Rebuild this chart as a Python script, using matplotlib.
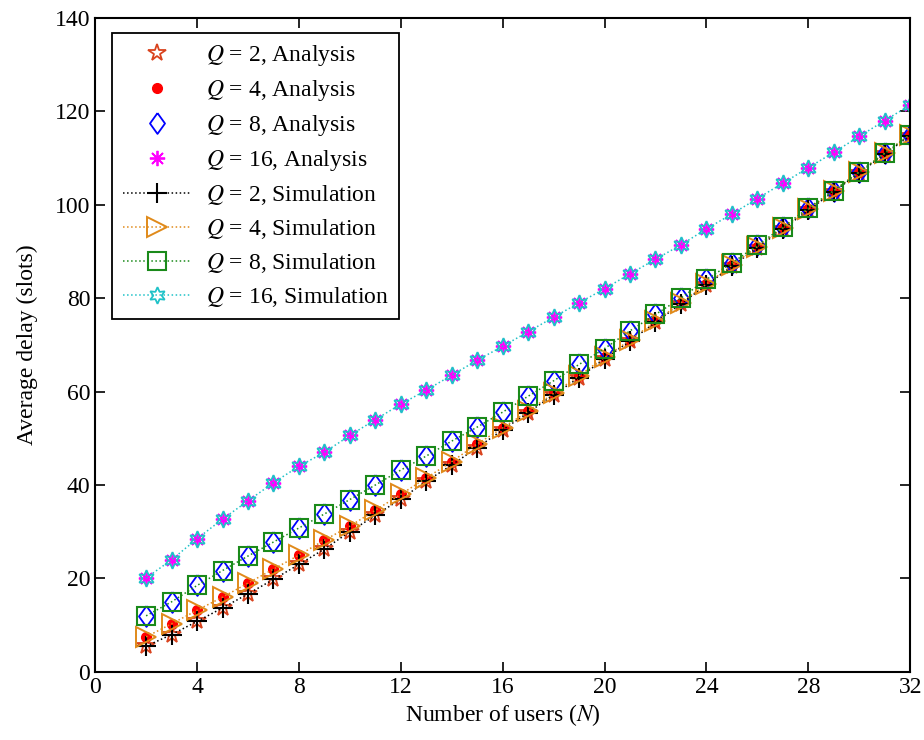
import numpy as np
import matplotlib
matplotlib.use("Agg")
import matplotlib.pyplot as plt

plt.rcParams["font.family"] = ["Liberation Serif", "DejaVu Serif"]
plt.rcParams["mathtext.fontset"] = "stix"
plt.rcParams["font.size"] = 17

# ---- data ----
users = list(range(2, 33))

q2 = [5.5, 8.0, 10.8, 13.7, 16.7, 19.8, 23.0, 26.3, 30.0, 33.5, 37.0, 40.8, 44.3, 48.0, 51.8, 55.5,
      59.3, 63.0, 67.0, 70.8, 74.8, 78.8, 82.8, 86.8, 90.8, 94.8, 98.8, 102.8, 106.8, 110.8, 114.8]
q4 = [7.5, 10.3, 13.2, 16.0, 19.0, 22.0, 25.0, 28.2, 31.2, 34.6, 38.0, 41.5, 45.0, 48.8, 52.2, 55.8,
      59.6, 63.4, 67.3, 71.0, 75.0, 79.0, 83.0, 87.0, 91.0, 95.0, 99.0, 103.0, 107.0, 111.0, 115.0]
q8 = [12.0, 15.0, 18.5, 21.7, 24.8, 27.8, 30.8, 33.8, 36.9, 40.0, 43.2, 46.2, 49.4, 52.4, 55.6, 59.0,
      62.3, 65.8, 69.2, 73.0, 76.5, 80.0, 84.0, 87.5, 91.3, 95.2, 99.3, 103.0, 107.0, 111.0, 115.0]
q16 = [20.1, 24.0, 28.5, 32.7, 36.6, 40.5, 44.0, 47.0, 50.6, 54.0, 57.3, 60.3, 63.5, 66.7, 69.7, 72.8,
       75.9, 79.0, 82.0, 85.2, 88.3, 91.4, 94.8, 98.0, 101.3, 104.6, 107.9, 111.2, 114.6, 118.0, 121.3]

# slightly tall diamond, like the MATLAB one
diamond = [(0, 1), (0.72, 0), (0, -1), (-0.72, 0), (0, 1)]

fig = plt.figure(figsize=(9.24, 7.40), dpi=100)
ax = fig.add_axes([0.103, 0.092, 0.882, 0.884])

# analysis markers (no lines)
ax.plot(users, q2, ls="none", marker="*", ms=13, mfc="none", mec="#d9431e", mew=1.3,
        label=r"$Q$ = 2, Analysis")
ax.plot(users, q4, ls="none", marker="o", ms=7, mfc="red", mec="red",
        label=r"$Q$ = 4, Analysis")
ax.plot(users, q8, ls="none", marker=diamond, ms=15, mfc="none", mec="blue", mew=1.3,
        label=r"$Q$ = 8, Analysis")
ax.plot(users, q16, ls="none", marker=(8, 2, 0), ms=11, mec="magenta", mew=1.3,
        label=r"$Q$ = 16, Analysis")

# simulation (dotted lines + markers)
ax.plot(users, q2, ls=":", lw=1.1, color="black", marker="+", ms=14, mew=1.5,
        label=r"$Q$ = 2, Simulation")
ax.plot(users, q4, ls=":", lw=1.1, color="#e08a1a", marker=">", ms=14, mfc="none", mew=1.4,
        label=r"$Q$ = 4, Simulation")
ax.plot(users, q8, ls=":", lw=1.1, color="#1a8a1a", marker="s", ms=13, mfc="none", mew=1.5,
        label=r"$Q$ = 8, Simulation")
ax.plot(users, q16, ls=":", lw=1.1, color="#1fc2c8", marker=(6, 1, 0), ms=12, mfc="none", mew=1.3,
        label=r"$Q$ = 16, Simulation")

ax.set_xlim(0, 32)
ax.set_ylim(0, 140)
ax.set_xticks(range(0, 33, 4))
ax.set_yticks(range(0, 141, 20))
ax.tick_params(direction="in", length=7, width=1.2, top=True, right=True, labelsize=17)
for sp in ax.spines.values():
    sp.set_linewidth(1.5)

ax.set_xlabel(r"Number of users ($N$)", fontsize=17, labelpad=3)
ax.set_ylabel("Average delay (slots)", fontsize=17, labelpad=12)

leg = ax.legend(loc="upper left", bbox_to_anchor=(0.021, 0.977), fontsize=17,
                fancybox=False, edgecolor="black", framealpha=1, handlelength=2.9,
                labelspacing=0.42, borderpad=0.45, borderaxespad=0, handletextpad=0.6)
leg.get_frame().set_linewidth(1.3)

fig.savefig("out.png", dpi=100)
